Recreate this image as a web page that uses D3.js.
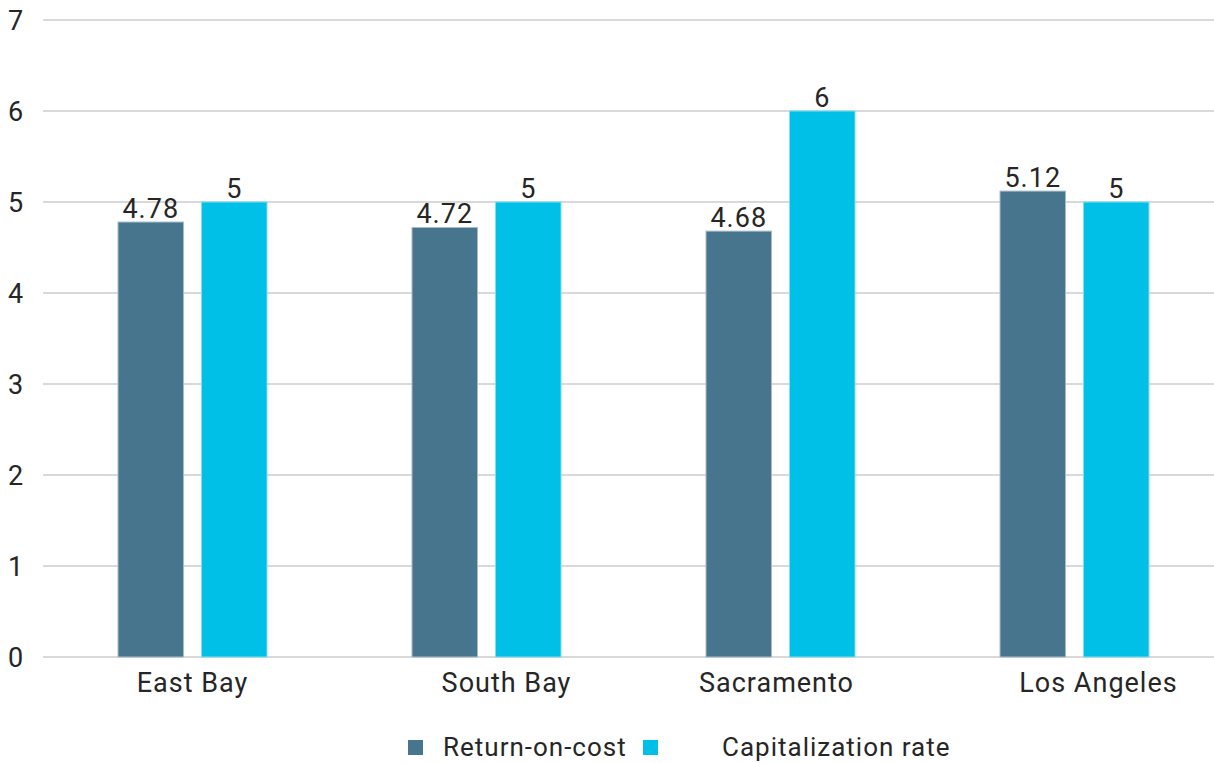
<!DOCTYPE html>
<html><head><meta charset="utf-8">
<script src="https://cdn.jsdelivr.net/npm/d3@7"></script>
<style>html,body{margin:0;padding:0;background:#fff;} svg{display:block;font-family:Roboto, "Noto Sans", sans-serif;} text{letter-spacing:1px;}</style>
</head><body>
<svg id="c" width="1214" height="763"></svg>
<script>
const categories = ["East Bay", "South Bay", "Sacramento", "Los Angeles"];
const seriesNames = ["Return-on-cost", "Capitalization rate"];
const returnOnCost = [4.78, 4.72, 4.68, 5.12];
const capRate = [5, 5, 6, 5];
const valueLabels = [["4.78","4.72","4.68","5.12"],["5","5","6","5"]];
const yTicks = [0,1,2,3,4,5,6,7];
const colors = ["#48758e", "#00c0e8"];
const labelNudge = [0, 20, -4, 24];
const FS = 27;

const svg = d3.select("#c");
const y = d3.scaleLinear().domain([0,7]).range([657, 20]);
const x0 = d3.scaleBand().domain(categories).range([45.5, 1221.5]).paddingInner(0).paddingOuter(0);
const x1 = d3.scaleBand().domain(seriesNames).range([-74.5, 74.5]).paddingInner(0.215).paddingOuter(0);

// gridlines
svg.append("g").selectAll("line").data(yTicks).join("line")
  .attr("x1", 43).attr("x2", 1214)
  .attr("y1", d => y(d)).attr("y2", d => y(d))
  .attr("stroke", "#d9d9d9").attr("stroke-width", 2);

// y labels
svg.append("g").selectAll("text").data(yTicks).join("text")
  .attr("x", 16).attr("y", d => y(d)).attr("dy", "0.36em")
  .attr("text-anchor", "middle").attr("font-size", FS).attr("fill", "#262626")
  .text(d => d);

const series = [returnOnCost, capRate];
series.forEach((vals, si) => {
  const g = svg.append("g");
  g.selectAll("rect").data(vals).join("rect")
    .attr("x", (d,i) => x0(categories[i]) + x0.bandwidth()/2 + x1(seriesNames[si]))
    .attr("width", x1.bandwidth())
    .attr("y", d => y(d)).attr("height", d => y(0) - y(d))
    .attr("fill", colors[si])
    .attr("stroke", si === 0 ? "#a9bccb" : "#7fdff3").attr("stroke-width", 1);
  g.selectAll("text").data(vals).join("text")
    .attr("x", (d,i) => x0(categories[i]) + x0.bandwidth()/2 + x1(seriesNames[si]) + x1.bandwidth()/2)
    .attr("y", d => y(d) - 4)
    .attr("text-anchor", "middle").attr("font-size", FS).attr("fill", "#262626")
    .text((d,i) => valueLabels[si][i]);
});

// category labels
svg.append("g").selectAll("text").data(categories).join("text")
  .attr("x", (d,i) => x0(d) + x0.bandwidth()/2 + labelNudge[i])
  .attr("y", 692)
  .attr("text-anchor", "middle").attr("font-size", FS).attr("fill", "#262626")
  .text(d => d);

// legend
const legX = [408, 643];
const legTextX = [443, 722];
const lg = svg.append("g");
seriesNames.forEach((n, i) => {
  lg.append("rect").attr("x", legX[i]).attr("y", 740).attr("width", 15).attr("height", 15).attr("fill", colors[i]);
  lg.append("text").attr("x", legTextX[i]).attr("y", 756)
    .attr("font-size", 26).attr("fill", "#262626").text(n);
});
</script>
</body></html>
